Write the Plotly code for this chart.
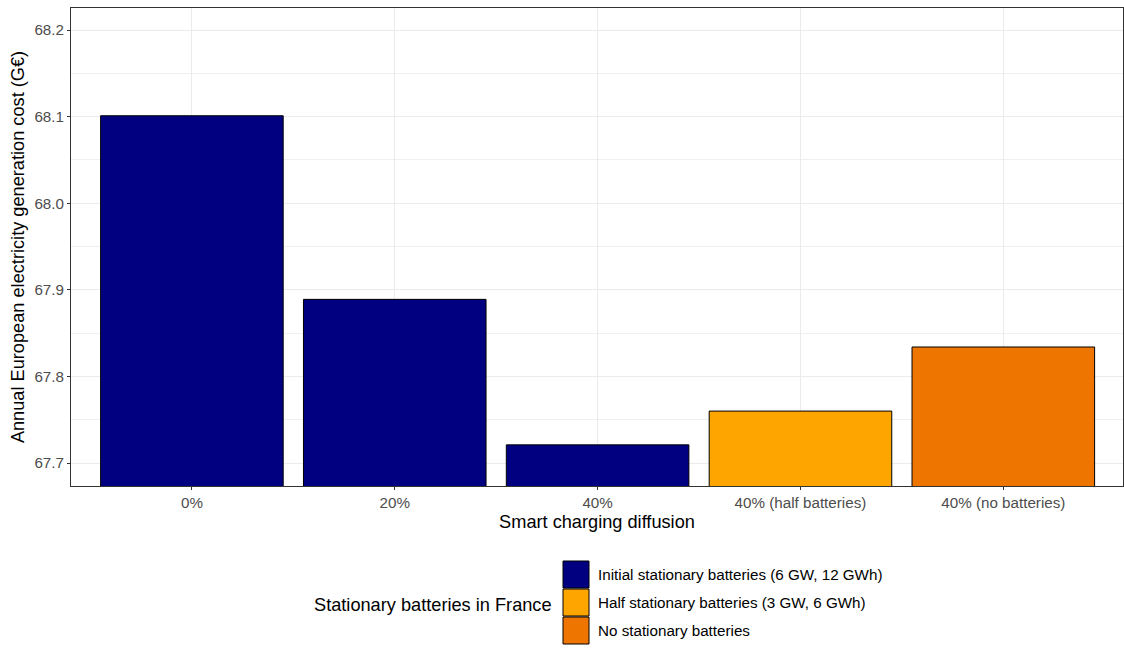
import plotly.graph_objects as go

categories = ["0%", "20%", "40%", "40% (half batteries)", "40% (no batteries)"]
values = [68.101, 67.889, 67.721, 67.760, 67.834]
groups = ["Initial stationary batteries (6 GW, 12 GWh)",
          "Initial stationary batteries (6 GW, 12 GWh)",
          "Initial stationary batteries (6 GW, 12 GWh)",
          "Half stationary batteries (3 GW, 6 GWh)",
          "No stationary batteries"]
legend_names = ["Initial stationary batteries (6 GW, 12 GWh)",
                "Half stationary batteries (3 GW, 6 GWh)",
                "No stationary batteries"]
legend_colors = ["#000080", "#FFA500", "#EE7600"]
y_ticks = [67.7, 67.8, 67.9, 68.0, 68.1, 68.2]

W, H = 1124, 648
L, R, T, B = 71, 1123, 8, 486  # plot area in px

def px_x(x):
    return (x - L) / (R - L)

def px_y(y):
    return (B - y) / (B - T)

fig = go.Figure()
for name, color in zip(legend_names, legend_colors):
    xs = [c for c, g in zip(categories, groups) if g == name]
    ys = [v for v, g in zip(values, groups) if g == name]
    fig.add_trace(go.Bar(
        x=xs, y=ys, name=name, width=0.9,
        marker=dict(color=color, line=dict(color="black", width=1)),
        showlegend=False,
    ))

font_family = "Liberation Sans, Arial, sans-serif"
TICK = 15.2
TITLE = 18.2
fig.update_layout(
    width=W, height=H,
    margin=dict(l=L, r=W - R, t=T, b=H - B, pad=0),
    paper_bgcolor="white", plot_bgcolor="white",
    barmode="overlay",
    font=dict(family=font_family, color="black"),
    xaxis=dict(
        type="category", categoryorder="array", categoryarray=categories,
        range=[-0.596, 4.59],
        showgrid=True, gridcolor="#EBEBEB", gridwidth=1,
        ticks="outside", ticklen=3, tickcolor="#333333", tickwidth=1,
        tickfont=dict(size=TICK, color="#4D4D4D"),
        title=dict(text="Smart charging diffusion", font=dict(size=TITLE, color="black"), standoff=5),
        showline=True, linecolor="#333333", linewidth=1, mirror=True,
        zeroline=False,
    ),
    yaxis=dict(
        range=[67.6735, 68.2254],
        tickvals=y_ticks, ticktext=[f"{v:.1f}" for v in y_ticks],
        showgrid=True, gridcolor="#EBEBEB", gridwidth=1,
        minor=dict(dtick=0.05, tick0=67.65, showgrid=True, gridcolor="#F0F0F0", gridwidth=0.6),
        ticks="outside", ticklen=3, tickcolor="#333333", tickwidth=1,
        tickfont=dict(size=TICK, color="#4D4D4D"),
        title=dict(text="Annual European electricity generation cost (G€)", font=dict(size=TITLE, color="black"), standoff=5),
        showline=True, linecolor="#333333", linewidth=1, mirror=True,
        zeroline=False,
    ),
)

# Legend (ggplot-style, title on the left, large keys)
key_x0, key_x1 = 563, 589
key_top, key_h = 561, 28
for i, (name, color) in enumerate(zip(legend_names, legend_colors)):
    y0 = key_top + i * key_h
    y1 = y0 + key_h - 1
    fig.add_shape(type="rect", xref="paper", yref="paper",
                  x0=px_x(key_x0), x1=px_x(key_x1), y0=px_y(y1), y1=px_y(y0),
                  fillcolor=color, line=dict(color="black", width=1))
    fig.add_annotation(xref="paper", yref="paper", x=px_x(596), y=px_y((y0 + y1) / 2),
                       text=name, showarrow=False, xanchor="left", yanchor="middle",
                       font=dict(size=TICK, color="black"))
fig.add_annotation(xref="paper", yref="paper", x=px_x(554), y=px_y(605),
                   text="Stationary batteries in France", showarrow=False,
                   xanchor="right", yanchor="middle", font=dict(size=TITLE, color="black"))

fig.write_html("out.html", config={"displayModeBar": False},
               post_script="document.body.style.margin='0';document.body.style.overflow='hidden';")
